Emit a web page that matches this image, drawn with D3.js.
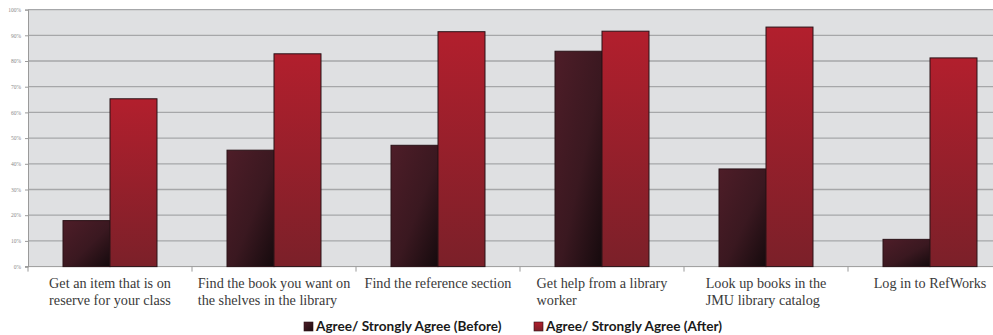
<!DOCTYPE html>
<html>
<head>
<meta charset="utf-8">
<script src="https://cdn.jsdelivr.net/npm/d3@7"></script>
<style>
  html, body { margin: 0; padding: 0; background: #fff; }
  svg { display: block; }
</style>
</head>
<body>
<svg id="chart" width="993" height="335"></svg>
<script>
// Categories (each label split into its lines)
const categories = [
    ["Get an item that is on", "reserve for your class"],
    ["Find the book you want on", "the shelves in the library"],
    ["Find the reference section"],
    ["Get help from a library", "worker"],
    ["Look up books in the", "JMU library catalog"],
    ["Log in to RefWorks"]
];

const seriesNames = ["Agree/ Strongly Agree (Before)", "Agree/ Strongly Agree (After)"];

// Values (share of respondents)
const beforeValues = [0.179, 0.453, 0.472, 0.838, 0.380, 0.106];
const afterValues = [0.653, 0.828, 0.914, 0.916, 0.932, 0.812];

const yTicks = [0, 0.1, 0.2, 0.3, 0.4, 0.5, 0.6, 0.7, 0.8, 0.9, 1];

function drawChart() {
    const svg = d3.select('#chart');

    // Plot area (goes past the right edge of the window, like the original)
    const left = 28, right = 1012, top = 9.6, bottom = 266.6;

    const x0 = d3.scaleBand()
        .domain(d3.range(categories.length))
        .range([left, right])
        .padding(0);

    const x1 = d3.scaleBand()
        .domain([0, 1])
        .range([0, x0.bandwidth()])
        .paddingInner(0)
        .paddingOuter(0.745);

    const y = d3.scaleLinear()
        .domain([0, 1])
        .range([bottom, top]);

    // Gradients for the bars
    const defs = svg.append('defs');
    const gBefore = defs.append('linearGradient')
        .attr('id', 'gradBefore')
        .attr('x1', '0%').attr('y1', '0%').attr('x2', '100%').attr('y2', '100%');
    gBefore.append('stop').attr('offset', '0%').attr('stop-color', '#4e1d28');
    gBefore.append('stop').attr('offset', '55%').attr('stop-color', '#3a1820');
    gBefore.append('stop').attr('offset', '100%').attr('stop-color', '#150a0d');

    const gAfter = defs.append('linearGradient')
        .attr('id', 'gradAfter')
        .attr('x1', '0%').attr('y1', '0%').attr('x2', '0%').attr('y2', '100%');
    gAfter.append('stop').attr('offset', '0%').attr('stop-color', '#b21f2d');
    gAfter.append('stop').attr('offset', '100%').attr('stop-color', '#7b2029');

    const gLegBefore = defs.append('linearGradient')
        .attr('id', 'legBefore')
        .attr('x1', '0%').attr('y1', '0%').attr('x2', '100%').attr('y2', '100%');
    gLegBefore.append('stop').attr('offset', '0%').attr('stop-color', '#4e1d28');
    gLegBefore.append('stop').attr('offset', '100%').attr('stop-color', '#1c0c10');

    // Plot background
    svg.append('rect')
        .attr('x', left)
        .attr('y', top)
        .attr('width', right - left)
        .attr('height', bottom - top)
        .attr('fill', '#dfe0e2');

    // Gridlines
    svg.append('g')
        .selectAll('line')
        .data(yTicks.filter(d => d > 0))
        .enter()
        .append('line')
        .attr('x1', left)
        .attr('x2', right)
        .attr('y1', d => y(d))
        .attr('y2', d => y(d))
        .attr('stroke', '#a6a7a9')
        .attr('stroke-width', 1.3);

    // Y axis
    const yAxis = svg.append('g')
        .attr('transform', `translate(${left},0)`)
        .call(d3.axisLeft(y).tickValues(yTicks).tickFormat(d3.format('.0%')).tickSize(3).tickPadding(4));
    yAxis.select('.domain').attr('stroke', '#9a9a9a');
    yAxis.selectAll('.tick line').attr('stroke', '#9a9a9a');
    yAxis.selectAll('text')
        .attr('fill', '#8a8a8a')
        .style('font-family', '"Liberation Serif", serif')
        .style('font-size', '5.5px');

    // X axis (line and ticks between categories)
    const xAxis = svg.append('g')
        .attr('transform', `translate(0,${bottom})`);
    xAxis.append('line')
        .attr('x1', left - 3)
        .attr('x2', right)
        .attr('stroke', '#9a9a9a');
    xAxis.selectAll('.sep')
        .data(d3.range(categories.length + 1))
        .enter()
        .append('line')
        .attr('class', 'sep')
        .attr('x1', d => d < categories.length ? x0(d) : right)
        .attr('x2', d => d < categories.length ? x0(d) : right)
        .attr('y1', 0)
        .attr('y2', 5)
        .attr('stroke', '#9a9a9a');

    // Bars
    const groups = svg.append('g')
        .selectAll('g')
        .data(categories.map((c, i) => [beforeValues[i], afterValues[i]]))
        .enter()
        .append('g')
        .attr('transform', (d, i) => `translate(${x0(i)},0)`);

    groups.selectAll('rect')
        .data(d => d)
        .enter()
        .append('rect')
        .attr('x', (d, j) => x1(j))
        .attr('y', d => y(d))
        .attr('width', x1.bandwidth())
        .attr('height', d => y(0) - y(d))
        .attr('fill', (d, j) => j === 0 ? 'url(#gradBefore)' : 'url(#gradAfter)')
        .attr('stroke', '#2a1217')
        .attr('stroke-width', 1);

    // Category labels (block centred, lines left-aligned)
    const labels = svg.append('g')
        .selectAll('text')
        .data(categories)
        .enter()
        .append('text')
        .attr('fill', '#3a3a3a')
        .style('font-family', '"Liberation Serif", "DejaVu Serif", serif')
        .style('font-size', '14.2px');

    labels.each(function (lines, i) {
        const t = d3.select(this);
        lines.forEach(function (line, k) {
            t.append('tspan')
                .attr('y', 288 + k * 17)
                .text(line);
        });
        let maxW = 0;
        t.selectAll('tspan').each(function () {
            maxW = Math.max(maxW, this.getComputedTextLength());
        });
        const cx = x0(i) + x0.bandwidth() / 2;
        t.selectAll('tspan').attr('x', cx - maxW / 2);
    });

    // Legend
    const legendX = [304, 534];
    const legend = svg.append('g')
        .selectAll('g')
        .data(seriesNames)
        .enter()
        .append('g')
        .attr('transform', (d, i) => `translate(${legendX[i]},326.5)`);

    legend.append('rect')
        .attr('x', 0)
        .attr('y', -4.5)
        .attr('width', 9)
        .attr('height', 9)
        .attr('fill', (d, i) => i === 0 ? 'url(#legBefore)' : 'url(#gradAfter)')
        .attr('stroke', '#2a1217')
        .attr('stroke-width', 0.6);

    legend.append('text')
        .attr('x', 12)
        .attr('y', 4.6)
        .attr('fill', '#1a1a1a')
        .style('font-family', 'Lato, "Open Sans", sans-serif')
        .style('font-weight', 'bold')
        .style('font-size', '13.6px')
        .text(d => d);
}

drawChart();
</script>
</body>
</html>
